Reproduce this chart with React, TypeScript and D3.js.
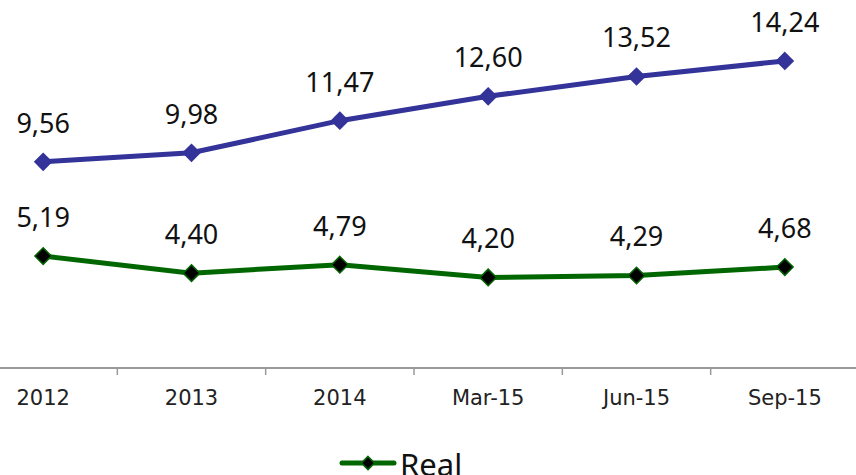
import React, { useEffect, useRef } from 'react';
import * as d3 from 'd3';

const categories = ['2012', '2013', '2014', 'Mar-15', 'Jun-15', 'Sep-15'];
const nominalValues = [9.56, 9.98, 11.47, 12.6, 13.52, 14.24];
const realValues = [5.19, 4.4, 4.79, 4.2, 4.29, 4.68];
const legendLabel = 'Real';

const App = () => {
	const chartRef = useRef<SVGSVGElement>(null);

	useEffect(() => {
		if (!chartRef.current) return;
		const width = 856;
		const svg = d3.select(chartRef.current);
		svg.selectAll('*').remove();

		const x = d3.scaleBand().domain(categories).range([-31, 859]);
		const y = d3.scaleLinear().domain([0, 16]).range([368, 23]);
		const cx = (c: string) => x(c)! + x.bandwidth() / 2;

		const locale = d3.formatLocale({ decimal: ',', thousands: '.', grouping: [3], currency: ['', ''] });
		const fmt = locale.format('.2f');

		// axis
		svg.append('line')
			.attr('x1', 0).attr('x2', width)
			.attr('y1', y(0)).attr('y2', y(0))
			.attr('stroke', '#999').attr('stroke-width', 2);

		const boundaries = categories.slice(1).map(c => x(c)!);
		svg.selectAll('.tick')
			.data(boundaries)
			.enter().append('line')
			.attr('x1', d => d).attr('x2', d => d)
			.attr('y1', y(0)).attr('y2', y(0) + 7)
			.attr('stroke', '#999').attr('stroke-width', 1.5);

		svg.selectAll('.xlabel')
			.data(categories)
			.enter().append('text')
			.attr('x', d => cx(d))
			.attr('y', 405)
			.attr('text-anchor', 'middle')
			.style('font-family', 'DejaVu Sans, Verdana, sans-serif')
			.style('font-size', '21px')
			.attr('fill', '#222')
			.text(d => d);

		const line = d3.line<number>()
			.x((d, i) => cx(categories[i]))
			.y(d => y(d));

		const diamond = d3.symbol().type(d3.symbolDiamond2).size(175);

		const series = [
			{ values: nominalValues, stroke: '#333399', fill: '#333399' },
			{ values: realValues, stroke: '#006600', fill: '#000000' },
		];

		series.forEach(s => {
			svg.append('path')
				.datum(s.values)
				.attr('fill', 'none')
				.attr('stroke', s.stroke)
				.attr('stroke-width', 5)
				.attr('d', line);

			svg.selectAll(null)
				.data(s.values)
				.enter().append('path')
				.attr('d', diamond)
				.attr('transform', (d, i) => `translate(${cx(categories[i])},${y(d)})`)
				.attr('fill', s.fill)
				.attr('stroke', s.stroke)
				.attr('stroke-width', 1.5);

			svg.selectAll(null)
				.data(s.values)
				.enter().append('text')
				.attr('x', (d, i) => cx(categories[i]))
				.attr('y', d => y(d) - 29)
				.attr('text-anchor', 'middle')
				.style('font-family', 'Noto Sans, sans-serif')
				.style('font-size', '27px')
				.attr('fill', '#111')
				.text(d => fmt(d));
		});

		// legend
		const legend = svg.append('g').attr('transform', 'translate(340,463)');
		legend.append('line')
			.attr('x1', 2).attr('x2', 54)
			.attr('stroke', '#006600').attr('stroke-width', 5).attr('stroke-linecap', 'round');
		legend.append('path')
			.attr('d', d3.symbol().type(d3.symbolDiamond2).size(110))
			.attr('transform', 'translate(28,0)')
			.attr('fill', '#000').attr('stroke', '#006600').attr('stroke-width', 1.5);
		legend.append('text')
			.attr('x', 60).attr('y', 13)
			.style('font-family', 'Noto Sans, sans-serif')
			.style('font-size', '31px')
			.attr('fill', '#111')
			.text(legendLabel);
	}, []);

	return (
		<svg ref={chartRef} width={856} height={475}
			style={{ position: 'absolute', left: 0, top: 0, background: '#fff' }} />
	);
};

export default App;
